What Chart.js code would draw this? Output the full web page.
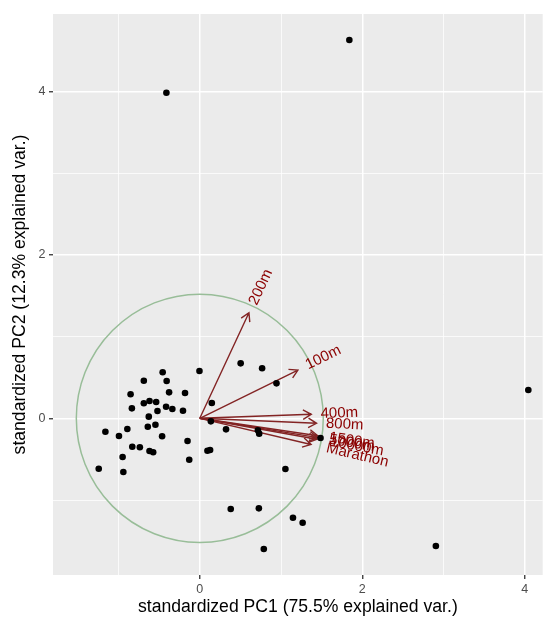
<!DOCTYPE html>
<html>
<head>
<meta charset="utf-8">
<script src="https://cdn.jsdelivr.net/npm/chart.js@4.4.1/dist/chart.umd.min.js"></script>
<style>
  html, body { margin: 0; padding: 0; background: #fff; }
  #wrap { width: 546px; height: 618px; position: relative; }
</style>
</head>
<body>
<div id="wrap"><canvas id="biplot"></canvas></div>
<script>
// scores (standardized PC1 / PC2), one per observation
const pc1 = [-0.457, -0.004, -0.689, -0.408, -0.852, -0.378, -0.182, -0.689, -0.619, -0.537,
  -0.836, -0.415, -0.338, -0.207, -0.521, -0.628, -0.640, -0.546, -1.162, -0.892,
  -0.995, -0.464, -0.151, -0.831, -0.738, -0.619, -0.574, -0.950, -0.130, -1.244,
  -0.941, 0.503, 0.767, 0.944, 0.148, 0.136, 0.323, 0.715, 0.731, 1.486,
  0.094, 0.127, 1.054, 0.381, 0.727, 1.147, 1.266, 0.788, -0.411, 1.841,
  4.044, 2.906];
const pc2 = [0.563, 0.579, 0.460, 0.457, 0.294, 0.318, 0.310, 0.184, 0.212, 0.200,
  0.122, 0.142, 0.114, 0.093, 0.089, 0.020, -0.103, -0.078, -0.164, -0.131,
  -0.217, -0.220, -0.278, -0.348, -0.355, -0.400, -0.416, -0.474, -0.507, -0.617,
  -0.657, 0.673, 0.612, 0.428, 0.187, -0.037, -0.135, -0.147, -0.188, -0.241,
  -0.397, -0.388, -0.621, -1.110, -1.102, -1.217, -1.278, -1.600, 3.985, 4.630,
  0.346, -1.563];

// variable loadings (arrow tips)
const varNames = ['100m', '200m', '400m', '800m', '1500m', '5000m', '10000m', 'Marathon'];
const varPC1 = [1.208, 0.605, 1.372, 1.437, 1.453, 1.453, 1.441, 1.370];
const varPC2 = [0.591, 1.293, 0.049, -0.061, -0.213, -0.237, -0.257, -0.320];

const circleRadius = 1.52;

const xTicks = [-1, 0, 1, 2, 3, 4];
const yTicks = [-1, 0, 1, 2, 3, 4];
const tickLabels = { '0': '0', '2': '2', '4': '4' };

const xTitle = 'standardized PC1 (75.5% explained var.)';
const yTitle = 'standardized PC2 (12.3% explained var.)';

const FONT = "'Liberation Sans', Arial, sans-serif";

const panelBg = {
  id: 'panelBg',
  beforeDraw(chart) {
    const { ctx, chartArea: a } = chart;
    ctx.save();
    ctx.fillStyle = '#EBEBEB';
    ctx.fillRect(a.left, a.top, a.right - a.left, a.bottom - a.top);
    ctx.restore();
  }
};

// circle + arrows go under the points
const loadings = {
  id: 'loadings',
  beforeDatasetsDraw(chart) {
    const { ctx, scales: { x, y } } = chart;
    const ox = x.getPixelForValue(0), oy = y.getPixelForValue(0);
    ctx.save();
    ctx.strokeStyle = '#98BD98';
    ctx.lineWidth = 1.5;
    ctx.beginPath();
    ctx.ellipse(ox, oy, x.getPixelForValue(circleRadius) - ox, oy - y.getPixelForValue(circleRadius), 0, 0, Math.PI * 2);
    ctx.stroke();

    ctx.strokeStyle = '#832424';
    ctx.lineWidth = 1.4;
    varNames.forEach((n, i) => {
      const tx = x.getPixelForValue(varPC1[i]), ty = y.getPixelForValue(varPC2[i]);
      const ang = Math.atan2(ty - oy, tx - ox);
      const len = 9.5, spread = Math.PI / 6;
      ctx.beginPath();
      ctx.moveTo(ox, oy);
      ctx.lineTo(tx, ty);
      ctx.moveTo(tx - len * Math.cos(ang - spread), ty - len * Math.sin(ang - spread));
      ctx.lineTo(tx, ty);
      ctx.lineTo(tx - len * Math.cos(ang + spread), ty - len * Math.sin(ang + spread));
      ctx.stroke();
    });
    ctx.restore();
  },
  afterDatasetsDraw(chart) {
    const { ctx, scales: { x, y } } = chart;
    const ox = x.getPixelForValue(0), oy = y.getPixelForValue(0);
    ctx.save();
    ctx.fillStyle = '#8B0000';
    ctx.font = '15px ' + FONT;
    ctx.textBaseline = 'middle';
    ctx.textAlign = 'left';
    varNames.forEach((n, i) => {
      const tx = x.getPixelForValue(varPC1[i]), ty = y.getPixelForValue(varPC2[i]);
      const ang = Math.atan2(ty - oy, tx - ox);
      const w = ctx.measureText(n).width;
      ctx.save();
      ctx.translate(tx, ty);
      ctx.rotate(ang);
      ctx.fillText(n, 0.25 * w, 0);
      ctx.restore();
    });
    ctx.restore();
  }
};

const gridOpts = {
  color: '#FFFFFF',
  lineWidth: c => (c.tick && c.tick.value % 2 === 0) ? 1.5 : 0.75,
  tickColor: c => (c.tick && c.tick.value % 2 === 0) ? '#333333' : 'rgba(0,0,0,0)',
  tickWidth: 1.3,
  tickLength: 4,
  drawOnChartArea: true
};

new Chart(document.getElementById('biplot'), {
  type: 'scatter',
  data: {
    datasets: [{
      data: pc1.map((v, i) => ({ x: v, y: pc2[i] })),
      backgroundColor: '#000000',
      borderWidth: 0,
      pointRadius: 3.3,
      pointHoverRadius: 3.3
    }]
  },
  options: {
    responsive: true,
    maintainAspectRatio: false,
    animation: false,
    layout: { padding: { top: 14, right: 0, left: 0, bottom: 0 } },
    plugins: { legend: { display: false }, tooltip: { enabled: false } },
    scales: {
      x: {
        type: 'linear',
        min: -1.807,
        max: 4.221,
        afterBuildTicks: s => { s.ticks = xTicks.map(v => ({ value: v })); },
        afterFit: s => { s.height = 43; },
        border: { display: false },
        grid: gridOpts,
        ticks: {
          autoSkip: false,
          maxRotation: 0,
          padding: 3.5,
          color: '#4D4D4D',
          font: { family: FONT, size: 12.5 },
          callback: v => tickLabels[String(v)] || ''
        },
        title: {
          display: true,
          text: xTitle,
          color: '#000000',
          font: { family: FONT, size: 17.6, lineHeight: 1.2 },
          padding: { top: 0, bottom: 0.5 }
        }
      },
      y: {
        type: 'linear',
        min: -1.918,
        max: 4.949,
        afterBuildTicks: s => { s.ticks = yTicks.map(v => ({ value: v })); },
        afterFit: s => { s.width = 53; },
        border: { display: false },
        grid: gridOpts,
        ticks: {
          autoSkip: false,
          padding: 3.5,
          color: '#4D4D4D',
          font: { family: FONT, size: 12.5 },
          callback: v => tickLabels[String(v)] || ''
        },
        title: {
          display: true,
          text: yTitle,
          color: '#000000',
          font: { family: FONT, size: 17.6, lineHeight: 1.2 },
          padding: { top: 9.5, bottom: 0 }
        }
      }
    }
  },
  plugins: [panelBg, loadings]
});
</script>
</body>
</html>
